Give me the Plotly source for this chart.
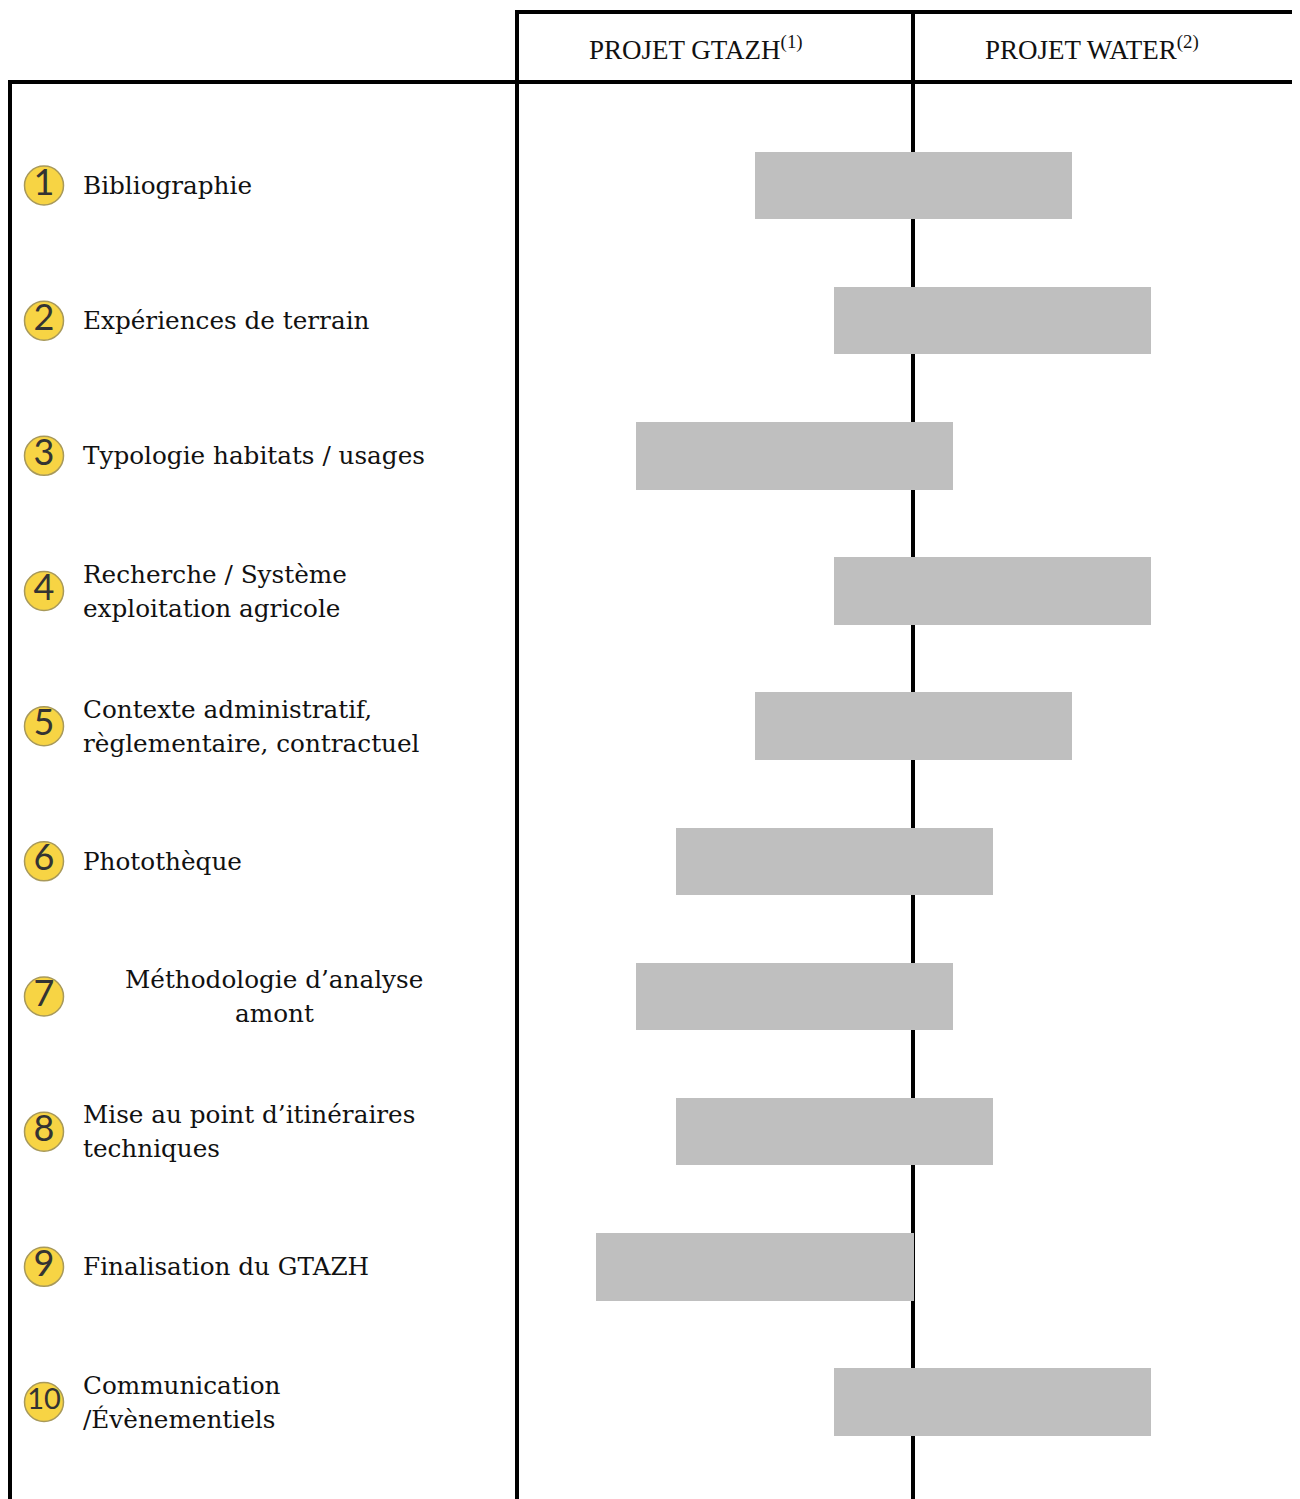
import plotly.graph_objects as go

# ---- data ----
numbers = ["1", "2", "3", "4", "5", "6", "7", "8", "9", "10"]
labels = [
    ["Bibliographie"],
    ["Expériences de terrain"],
    ["Typologie habitats / usages"],
    ["Recherche / Système", "exploitation agricole"],
    ["Contexte administratif,", "règlementaire, contractuel"],
    ["Photothèque"],
    ["Méthodologie d’analyse", "amont"],
    ["Mise au point d’itinéraires", "techniques"],
    ["Finalisation du GTAZH"],
    ["Communication", "/Évènementiels"],
]
starts = [-4, -2, -7, -2, -4, -6, -7, -6, -8, -2]
ends = [4, 6, 1, 6, 4, 2, 1, 2, 0, 6]
headers = ["PROJET GTAZH<sup>(1)</sup>", "PROJET WATER<sup>(2)</sup>"]

PAGE_W, PAGE_H = 1300, 1499
OFF = 8                      # body margin of the html page
W, H = PAGE_W - OFF, PAGE_H - OFF
UNIT = 39.66      # px per time unit
X0 = 913.5        # page px of time 0
ROW0 = 185.5      # page px of first row center
ROWSTEP = 135.17  # px between rows

rows = list(range(1, len(numbers) + 1))

fig = go.Figure()

fig.add_trace(go.Bar(
    y=rows,
    x=[e - s for s, e in zip(starts, ends)],
    base=starts,
    orientation="h",
    width=0.5,
    marker=dict(color="#BFBFBF", line=dict(width=0)),
    showlegend=False,
    hoverinfo="skip",
))

fig.add_trace(go.Scatter(
    x=[44] * len(rows),
    y=rows,
    mode="markers+text",
    text=numbers,
    textposition="middle center",
    textfont=dict(family="Lato", size=[36 if len(n) == 1 else 29 for n in numbers], color="#333333"),
    marker=dict(size=39, color="#F7D444", line=dict(color="#A8995A", width=1.5)),
    xaxis="x2",
    showlegend=False,
    hoverinfo="skip",
))

xr = [(OFF - X0) / UNIT, (PAGE_W - X0) / UNIT]
yr = [1 + (PAGE_H - ROW0) / ROWSTEP, 1 + (OFF - ROW0) / ROWSTEP]

def px(x):
    return (x - OFF) / W

def py(y):
    return 1 - (y - OFF) / H

shapes = []
def line(x0, y0, x1, y1, w=4):
    shapes.append(dict(type="line", xref="paper", yref="paper",
                       x0=px(x0), y0=py(y0), x1=px(x1), y1=py(y1),
                       line=dict(color="black", width=w), layer="below"))

line(515, 12, 1310, 12)
line(517, 10, 517, PAGE_H + 5)
line(913, 10, 913, PAGE_H + 5)
line(8, 82, 1310, 82)
line(10, 80, 10, PAGE_H + 5)

annotations = []
for i, h in enumerate(headers):
    annotations.append(dict(
        x=px([696, 1092][i]), y=py(48), xref="paper", yref="paper",
        text=h, showarrow=False, xanchor="center", yanchor="middle",
        font=dict(family="Liberation Serif", size=27, color="#111111"),
    ))

for r, lab in zip(rows, labels):
    n = len(lab)
    centered = (r == 7)
    for k, t in enumerate(lab):
        shift = 0 if n == 1 else (17 if k == 0 else -17)
        annotations.append(dict(
            x=px(274) if centered else px(81), y=r, xref="paper", yref="y",
            yshift=shift,
            text=t, showarrow=False,
            xanchor="center" if centered else "left", yanchor="middle",
            font=dict(family="DejaVu Serif", size=24.7, color="#111111"),
        ))

fig.update_layout(
    width=W, height=H,
    margin=dict(l=0, r=0, t=0, b=0),
    paper_bgcolor="white", plot_bgcolor="white",
    xaxis=dict(range=xr, visible=False, fixedrange=True),
    xaxis2=dict(range=[OFF, PAGE_W], overlaying="x", visible=False, fixedrange=True),
    yaxis=dict(range=yr, visible=False, fixedrange=True),
    shapes=shapes,
    annotations=annotations,
    bargap=0,
)

fig.write_html("out.html")
